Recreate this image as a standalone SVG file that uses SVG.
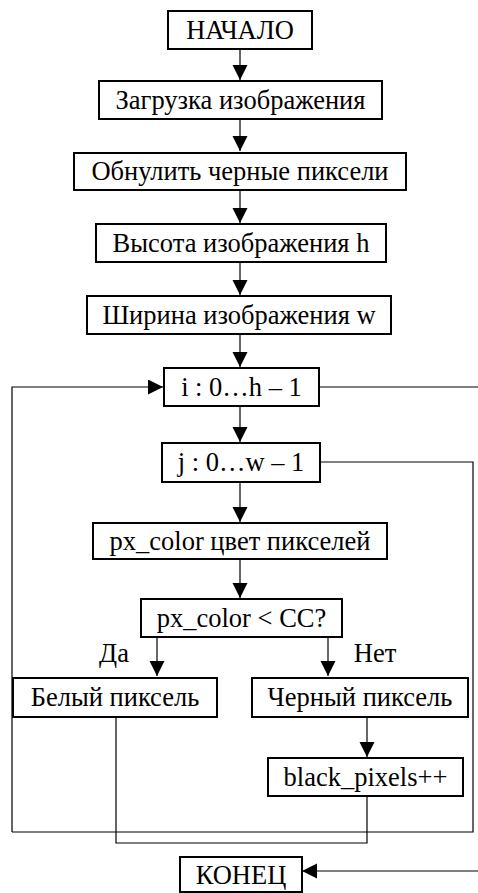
<svg xmlns="http://www.w3.org/2000/svg" width="478" height="893" viewBox="0 0 478 893">
<style>
.box{fill:#fff;stroke:#000;stroke-width:2}
.t{font-family:"Liberation Serif","Times New Roman",serif;font-size:26.5px;fill:#000;text-anchor:middle}
.c{fill:none;stroke:#000;stroke-width:1.2}
</style>
<defs>
<marker id="ah" markerUnits="userSpaceOnUse" markerWidth="16" markerHeight="16" refX="15" refY="7.5" orient="auto">
<path d="M0,0 L15,7.5 L0,15 Z" fill="#000"/>
</marker>
</defs>
<rect width="478" height="893" fill="#fff"/>
<g id="connectors">
<path class="c" d="M240,49 V80" marker-end="url(#ah)"/>
<path class="c" d="M240,119 V151" marker-end="url(#ah)"/>
<path class="c" d="M240,190 V223" marker-end="url(#ah)"/>
<path class="c" d="M240,262 V295" marker-end="url(#ah)"/>
<path class="c" d="M240,334 V367" marker-end="url(#ah)"/>
<path class="c" d="M240,406 V442" marker-end="url(#ah)"/>
<path class="c" d="M240,482 V522" marker-end="url(#ah)"/>
<path class="c" d="M240,559 V598" marker-end="url(#ah)"/>
<path class="c" d="M157,637 V676" marker-end="url(#ah)"/>
<path class="c" d="M328,637 V676" marker-end="url(#ah)"/>
<path class="c" d="M367,717 V757" marker-end="url(#ah)"/>
<path class="c" d="M12,832 V387 H163" marker-end="url(#ah)"/>
<path class="c" d="M319,387 H478"/>
<path class="c" d="M320,462 H473 V832 H12"/>
<path class="c" d="M116,717 V843 H367 V796"/>
<path class="c" d="M478,871 H302" marker-end="url(#ah)"/>
</g>
<g id="start"><rect class="box" x="168" y="11" width="144" height="38"/><text class="t" x="240" y="39">НАЧАЛО</text></g>
<g id="load"><rect class="box" x="99" y="81" width="283" height="38"/><text class="t" x="240.5" y="109">Загрузка изображения</text></g>
<g id="reset"><rect class="box" x="74" y="153" width="332" height="37"/><text class="t" x="240" y="180">Обнулить черные пиксели</text></g>
<g id="height"><rect class="box" x="96" y="224" width="290" height="38"/><text class="t" x="241" y="252">Высота изображения h</text></g>
<g id="width"><rect class="box" x="87" y="296" width="304" height="38"/><text class="t" x="239" y="324">Ширина изображения w</text></g>
<g id="loop-i"><rect class="box" x="164" y="368" width="155" height="38"/><text class="t" x="241.5" y="396">i : 0…h – 1</text></g>
<g id="loop-j"><rect class="box" x="162" y="443" width="158" height="39"/><text class="t" x="241" y="471">j : 0…w – 1</text></g>
<g id="color"><rect class="box" x="93" y="523" width="294" height="36"/><text class="t" x="240" y="550">px_color цвет пикселей</text></g>
<g id="cond"><rect class="box" x="141" y="599" width="201" height="38"/><text class="t" x="241.5" y="627">px_color &lt; CC?</text></g>
<g id="labels"><text class="t" x="114" y="662">Да</text><text class="t" x="375" y="662">Нет</text></g>
<g id="white"><rect class="box" x="13" y="678" width="204" height="39"/><text class="t" x="115" y="706">Белый пиксель</text></g>
<g id="black"><rect class="box" x="252" y="678" width="216" height="39"/><text class="t" x="360" y="706">Черный пиксель</text></g>
<g id="count"><rect class="box" x="268" y="758" width="195" height="38"/><text class="t" x="365.5" y="786">black_pixels++</text></g>
<g id="end"><rect class="box" x="180" y="857" width="122" height="35"/><text class="t" x="241" y="884">КОНЕЦ</text></g>
</svg>
